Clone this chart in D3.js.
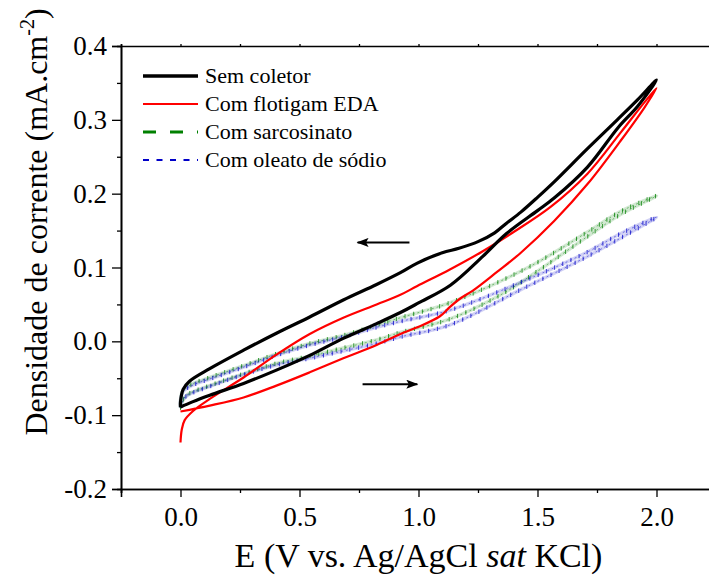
<!DOCTYPE html>
<html>
<head>
<meta charset="utf-8">
<script src="https://cdn.jsdelivr.net/npm/d3@7"></script>
<style>
  html, body { margin: 0; padding: 0; background: #fff; }
  svg { display: block; }
  svg text { font-family: "Liberation Serif", "Times New Roman", serif; fill: #000; }
</style>
</head>
<body>
<svg id="chart" width="709" height="582"></svg>
<script>
// Cyclic voltammograms: potential E (V vs Ag/AgCl) and current density (mA/cm²),
// each series listed in scan order (forward 0 → 2 V, then back to 0 V).
const semColetor = [
  [0.0, -0.089], [0.05, -0.082], [0.123, -0.073], [0.265, -0.057], [0.403, -0.039],
  [0.543, -0.019], [0.684, 0.004], [0.824, 0.024], [0.924, 0.039], [1.0, 0.052],
  [1.134, 0.076], [1.27, 0.115], [1.37, 0.146], [1.5, 0.177], [1.57, 0.194],
  [1.71, 0.236], [1.84, 0.29], [1.92, 0.318], [2.0, 0.354],
  [1.92, 0.327], [1.835, 0.3], [1.71, 0.261], [1.57, 0.216],
  [1.5, 0.195], [1.43, 0.175], [1.37, 0.16], [1.32, 0.147], [1.25, 0.135],
  [1.17, 0.126], [1.1, 0.12], [0.995, 0.106], [0.924, 0.093], [0.824, 0.077],
  [0.684, 0.056], [0.543, 0.033], [0.403, 0.011], [0.265, -0.012], [0.123, -0.037],
  [0.038, -0.054], [0.011, -0.065], [0.0, -0.082], [0.0, -0.089]
];
const flotigamEDA = [
  [0.0, -0.137], [0.005, -0.12], [0.017, -0.107], [0.054, -0.094], [0.123, -0.078],
  [0.265, -0.049], [0.403, -0.018], [0.543, 0.01], [0.684, 0.032], [0.824, 0.05],
  [0.924, 0.063], [0.995, 0.075], [1.13, 0.097], [1.27, 0.122], [1.39, 0.146],
  [1.555, 0.182], [1.71, 0.227], [1.85, 0.283], [1.95, 0.324], [2.0, 0.343],
  [1.95, 0.317], [1.85, 0.272], [1.71, 0.213], [1.57, 0.163], [1.43, 0.12],
  [1.33, 0.094], [1.23, 0.069], [1.18, 0.059], [1.13, 0.046], [1.09, 0.034],
  [0.995, 0.019], [0.924, 0.01], [0.824, -0.005], [0.684, -0.023], [0.543, -0.042],
  [0.403, -0.06], [0.265, -0.076], [0.123, -0.087], [0.0, -0.095]
];
const sarcosinato = [
  [0.0, -0.09], [0.01, -0.08], [0.03, -0.072], [0.123, -0.06], [0.265, -0.044],
  [0.403, -0.03], [0.543, -0.02], [0.684, -0.009], [0.824, 0.002], [0.924, 0.012],
  [1.13, 0.03], [1.34, 0.062], [1.5, 0.095], [1.71, 0.142], [1.85, 0.172], [2.0, 0.197],
  [1.85, 0.176], [1.71, 0.148], [1.46, 0.1], [1.13, 0.052], [0.924, 0.032],
  [0.824, 0.022], [0.684, 0.008], [0.543, -0.003], [0.403, -0.017], [0.265, -0.033],
  [0.123, -0.049], [0.054, -0.057], [0.011, -0.066], [0.0, -0.08], [0.0, -0.09]
];
const oleatoSodio = [
  [0.0, -0.09], [0.01, -0.079], [0.03, -0.073], [0.123, -0.061], [0.265, -0.045],
  [0.403, -0.032], [0.543, -0.023], [0.684, -0.013], [0.824, -0.003], [0.924, 0.006],
  [1.13, 0.022], [1.43, 0.07], [1.71, 0.115], [1.85, 0.14], [2.0, 0.168],
  [1.85, 0.146], [1.71, 0.121], [1.43, 0.08], [1.13, 0.042], [0.924, 0.027],
  [0.824, 0.019], [0.684, 0.006], [0.543, -0.005], [0.403, -0.019], [0.265, -0.035],
  [0.123, -0.051], [0.054, -0.059], [0.011, -0.068], [0.0, -0.08], [0.0, -0.09]
];

const seriesNames = ["Sem coletor", "Com flotigam EDA", "Com sarcosinato", "Com oleato de sódio"];
const xTicks = [0.0, 0.5, 1.0, 1.5, 2.0];
const yTicks = [-0.2, -0.1, 0.0, 0.1, 0.2, 0.3, 0.4];
// scan direction arrows: [start E, end E, j]
const scanArrows = [[0.962, 0.744, 0.134], [0.765, 0.995, -0.058]];

const svg = d3.select("#chart");
const x = d3.scaleLinear().domain([-0.25, 2.25]).range([121, 716]);
const y = d3.scaleLinear().domain([-0.2, 0.4]).range([489, 46]);

// tick labels with a plain hyphen for negatives
const fmt = v => d3.format(".1f")(v).replace("\u2212", "-");
const axisStyle = g => {
  g.attr("font-family", null).attr("font-size", null);
  g.selectAll(".domain").attr("stroke", "#000").attr("stroke-width", 1.6);
  g.selectAll(".tick line").attr("stroke", "#000").attr("stroke-width", 1.3);
};

// minor ticks
svg.append("g").attr("transform", `translate(0,${y(-0.2)})`)
  .call(d3.axisBottom(x).tickValues([-0.25, 0.25, 0.75, 1.25, 1.75, 2.25]).tickSize(4).tickFormat(""))
  .call(axisStyle);
svg.append("g").attr("transform", `translate(${x(-0.25)},0)`)
  .call(d3.axisLeft(y).tickValues([-0.15, -0.05, 0.05, 0.15, 0.25, 0.35]).tickSize(4).tickFormat(""))
  .call(axisStyle);

const xAxis = svg.append("g").attr("transform", `translate(0,${y(-0.2)})`)
  .call(d3.axisBottom(x).tickValues(xTicks).tickSize(8).tickPadding(10).tickFormat(fmt))
  .call(axisStyle);
xAxis.selectAll("text").style("font-size", "27px");

const yAxis = svg.append("g").attr("transform", `translate(${x(-0.25)},0)`)
  .call(d3.axisLeft(y).tickValues(yTicks).tickSize(9).tickPadding(5).tickFormat(fmt))
  .call(axisStyle);
yAxis.selectAll("text").style("font-size", "27px");

// top edge of the frame with small outward ticks
svg.append("g").attr("transform", `translate(0,${y(0.4)})`)
  .call(d3.axisTop(x).tickValues(d3.range(-0.25, 2.3, 0.25)).tickSize(2).tickFormat(""))
  .call(axisStyle);

// Curves
const line = d3.line().x(d => x(d[0])).y(d => y(d[1])).curve(d3.curveCatmullRom.alpha(0.5));
const plot = svg.append("g");

function hatched(data, color, offset) {
  const band = plot.append("path").attr("d", line(data)).attr("fill", "none")
    .attr("stroke", color).attr("stroke-width", 3.5).attr("stroke-opacity", 0.18);
  plot.append("path").attr("d", line(data)).attr("fill", "none")
    .attr("stroke", color).attr("stroke-width", 0.8).attr("stroke-dasharray", "2 3").attr("stroke-opacity", 0.6);
  // short vertical hatch marks along the trace
  const node = band.node();
  const L = node.getTotalLength();
  for (let s = offset; s < L; s += 9) {
    const p = node.getPointAtLength(s);
    plot.append("line").attr("x1", p.x).attr("x2", p.x).attr("y1", p.y - 2.2).attr("y2", p.y + 2.2)
      .attr("stroke", color).attr("stroke-width", 0.9).attr("stroke-opacity", 0.85);
  }
}
hatched(sarcosinato, "#008000", 0);
hatched(oleatoSodio, "#0000c8", 4);

plot.append("path").attr("d", line(flotigamEDA)).attr("fill", "none")
  .attr("stroke", "#ff0000").attr("stroke-width", 2.2).attr("stroke-linejoin", "round");
plot.append("path").attr("d", line(semColetor)).attr("fill", "none")
  .attr("stroke", "#000").attr("stroke-width", 3.2).attr("stroke-linejoin", "round");

// Scan direction arrows
const defs = svg.append("defs");
defs.append("marker").attr("id", "head").attr("viewBox", "0 0 12 9")
  .attr("refX", 11).attr("refY", 4.5).attr("markerWidth", 13).attr("markerHeight", 9)
  .attr("markerUnits", "userSpaceOnUse").attr("orient", "auto")
  .append("path").attr("d", "M0,0 L12,4.5 L0,9 L2.5,4.5 Z").attr("fill", "#000");
scanArrows.forEach(a => {
  svg.append("line").attr("x1", x(a[0])).attr("y1", y(a[2])).attr("x2", x(a[1])).attr("y2", y(a[2]))
    .attr("stroke", "#000").attr("stroke-width", 2).attr("marker-end", "url(#head)");
});

// Legend
const legendStyles = [
  { color: "#000", width: 3.5, dash: null },
  { color: "#ff0000", width: 2, dash: null },
  { color: "#008000", width: 3.2, dash: "13 14" },
  { color: "#0000c8", width: 2, dash: "6 7.5" }
];
const legend = svg.append("g");
seriesNames.forEach((name, i) => {
  const ly = 76 + i * 28;
  const st = legendStyles[i];
  legend.append("line").attr("x1", 143).attr("x2", 198).attr("y1", ly).attr("y2", ly)
    .attr("stroke", st.color).attr("stroke-width", st.width)
    .attr("stroke-dasharray", st.dash);
  legend.append("text").attr("x", 205).attr("y", ly + 7).style("font-size", "22px").text(name);
});

// Axis titles
const xt = svg.append("text").attr("x", x(1.0)).attr("y", 567).attr("text-anchor", "middle")
  .style("font-size", "34px");
xt.append("tspan").text("E (V vs. Ag/AgCl ");
xt.append("tspan").style("font-style", "italic").text("sat");
xt.append("tspan").text(" KCl)");

const yt = svg.append("text").attr("transform", "translate(47,222) rotate(-90)")
  .attr("text-anchor", "middle").style("font-size", "32px");
yt.append("tspan").text("Densidade de corrente (mA.cm");
yt.append("tspan").style("font-size", "20px").attr("dy", -13).text("-2");
yt.append("tspan").attr("dy", 13).text(")");
</script>
</body>
</html>
